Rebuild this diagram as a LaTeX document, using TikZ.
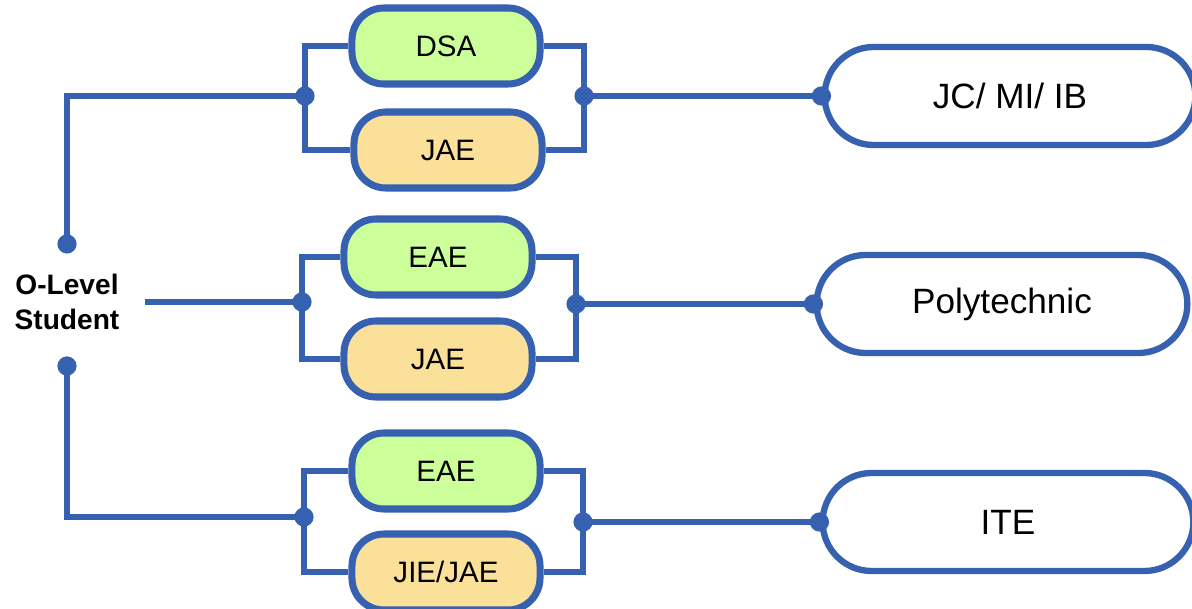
\documentclass[tikz,border=0pt]{standalone}
\usepackage{fontspec}
\setmainfont{Liberation Sans}
\usetikzlibrary{shapes.misc}
\definecolor{lineblue}{RGB}{54,97,177}
\definecolor{pillgreen}{RGB}{204,255,153}
\definecolor{pillyellow}{RGB}{250,224,152}

\begin{document}
\begin{tikzpicture}[x=0.025cm, y=-0.025cm,
        route/.style={draw=lineblue, line width=5pt, rounded corners=0.8cm,
            minimum width=4.7cm, minimum height=1.9cm, font=\fontsize{21}{24}\selectfont},
        entrybox/.style={route, fill=pillgreen},
        jaebox/.style={route, fill=pillyellow},
        school/.style={draw=lineblue, line width=4.5pt, rounded rectangle, fill=white,
            minimum width=9.5cm, minimum height=2.45cm, font=\fontsize{25}{30}\selectfont},
        wire/.style={lineblue, line width=4.5pt}]
        \useasboundingbox (0,0) rectangle (1192,609);

        % student
        \node[align=center, font=\bfseries\fontsize{20}{24.5}\selectfont] (student) at (67,302) {O-Level\\Student};
        \coordinate (top) at (67,244);
        \coordinate (bot) at (67,366);
        \coordinate (s0) at (145,302);

        % routes
        \node[entrybox] (dsa) at (446,46) {DSA};
        \node[jaebox] (jaeA) at (448,150) {JAE};
        \node[entrybox] (eaeB) at (438,257) {EAE};
        \node[jaebox] (jaeB) at (438,359) {JAE};
        \node[entrybox] (eaeC) at (446,471) {EAE};
        \node[jaebox] (jie) at (446,572) {JIE/JAE};

        % schools
        \node[school] (jc) at (1010,96) {JC/ MI/ IB};
        \node[school] (poly) at (1002,304) {Polytechnic};
        \node[school] (ite) at (1008,522) {ITE};

        % junctions
        \coordinate (l1) at (305,96);
        \coordinate (l2) at (302,302);
        \coordinate (l3) at (304,517);
        \coordinate (r1) at (584,96);
        \coordinate (r2) at (576,304);
        \coordinate (r3) at (583,522);

        % lines
        \draw[wire] (top) |- (l1);
        \draw[wire] (s0) -- (l2);
        \draw[wire] (bot) |- (l3);
        \draw[wire] (dsa.west) -| (l1) |- (jaeA.west);
        \draw[wire] (eaeB.west) -| (l2) |- (jaeB.west);
        \draw[wire] (eaeC.west) -| (l3) |- (jie.west);
        \draw[wire] (dsa.east) -| (r1) |- (jaeA.east);
        \draw[wire] (eaeB.east) -| (r2) |- (jaeB.east);
        \draw[wire] (eaeC.east) -| (r3) |- (jie.east);
        \draw[wire] (r1) -- (jc.west);
        \draw[wire] (r2) -- (poly.west);
        \draw[wire] (r3) -- (ite.west);

        % points
        \foreach \p in {top, bot, l1, l2, l3, r1, r2, r3, jc.west, poly.west, ite.west}
            \fill[lineblue] (\p) circle[radius=0.24cm];
    \end{tikzpicture}
\end{document}
